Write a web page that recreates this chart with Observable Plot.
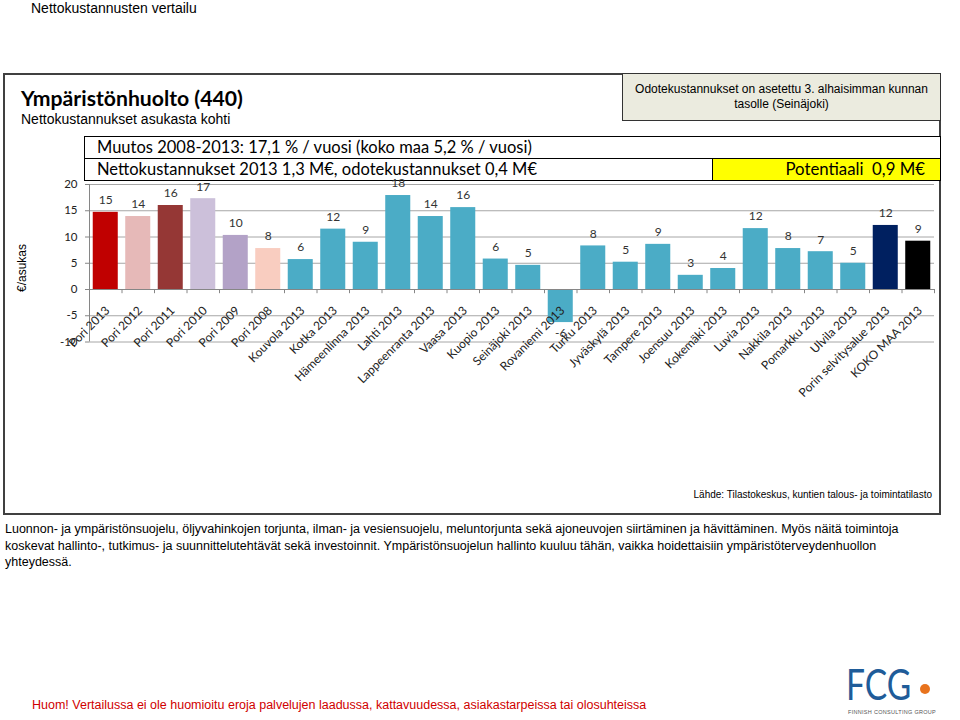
<!DOCTYPE html>
<html><head><meta charset="utf-8">
<script src="https://cdn.jsdelivr.net/npm/d3@7"></script>
<script src="https://cdn.jsdelivr.net/npm/@observablehq/plot@0.6"></script>
<style>
html,body{margin:0;padding:0;background:#fff;}
#page{position:relative;width:960px;height:720px;overflow:hidden;font-family:"Liberation Sans",Arial,sans-serif;color:#000;}
.abs{position:absolute;box-sizing:border-box;white-space:nowrap;}
.cal{font-family:Lato,"Noto Sans",sans-serif;}
#chart{position:absolute;left:0;top:0;z-index:5;pointer-events:none;}
</style></head><body><div id="page">
<div class="abs" style="left:31px;top:0px;font-size:14px;line-height:16px;">Nettokustannusten vertailu</div>
<div class="abs" style="left:3px;top:73px;width:938px;height:442px;border:2px solid #404040;"></div>
<div class="abs" style="left:622px;top:73px;width:319px;height:48px;border:1.5px solid #333;background:#ebebdf;font-size:12px;line-height:15px;text-align:center;padding-top:8px;">Odotekustannukset on asetettu 3. alhaisimman kunnan<br>tasolle (Seinäjoki)</div>
<div class="abs cal" style="left:21px;top:86px;font-size:21.2px;line-height:24px;font-weight:700;">Ympäristönhuolto (440)</div>
<div class="abs" style="left:21px;top:111px;font-size:14px;line-height:16px;">Nettokustannukset asukasta kohti</div>
<div class="abs cal" style="left:84px;top:136px;width:857px;height:23px;border:1.5px solid #000;background:#fff;font-size:16.5px;line-height:20px;padding-left:12px;">Muutos 2008-2013: 17,1 % / vuosi (koko maa 5,2 % / vuosi)</div>
<div class="abs cal" style="left:84px;top:158px;width:857px;height:23px;border:1.5px solid #000;background:#fff;font-size:16.5px;line-height:20px;padding-left:12px;">Nettokustannukset 2013 1,3 M€, odotekustannukset 0,4 M€</div>
<div class="abs cal" style="left:712px;top:158px;width:229px;height:23px;border:1.5px solid #000;background:#ffff00;font-size:16.8px;line-height:20px;text-align:right;padding-right:15px;">Potentiaali&nbsp;&nbsp;0,9 M€</div>
<div class="abs" style="left:22px;top:268px;font-size:12px;line-height:14px;transform:translate(-50%,-50%) rotate(-90deg);">€/asukas</div>
<div class="abs" style="right:28px;top:489px;font-size:10px;line-height:12px;">Lähde: Tilastokeskus, kuntien talous- ja toimintatilasto</div>
<div class="abs" style="left:5px;top:521px;font-size:12.5px;line-height:16.5px;">Luonnon- ja ympäristönsuojelu, öljyvahinkojen torjunta, ilman- ja vesiensuojelu, meluntorjunta sekä ajoneuvojen siirtäminen ja hävittäminen. Myös näitä toimintoja<br>koskevat hallinto-, tutkimus- ja suunnittelutehtävät sekä investoinnit. Ympäristönsuojelun hallinto kuuluu tähän, vaikka hoidettaisiin ympäristöterveydenhuollon<br>yhteydessä.</div>
<div class="abs" style="left:32px;top:698px;font-size:12.5px;line-height:15px;color:#d00000;">Huom! Vertailussa ei ole huomioitu eroja palvelujen laadussa, kattavuudessa, asiakastarpeissa tai olosuhteissa</div>
<div class="abs" style="left:846px;top:661px;font-size:43px;line-height:46px;color:#1f5c99;font-family:Lato,sans-serif;font-weight:400;transform:scaleX(0.78);transform-origin:left center;">FCG</div>
<div class="abs" style="left:920px;top:684px;width:10px;height:10px;border-radius:50%;background:#e8731d;"></div>
<div class="abs" style="left:848px;top:709px;font-size:5.5px;line-height:7px;color:#555;letter-spacing:0.3px;">FINNISH CONSULTING GROUP</div>
</div>
<script>
const categories = ["Pori 2013","Pori 2012","Pori 2011","Pori 2010","Pori 2009","Pori 2008","Kouvola 2013","Kotka 2013","Hämeenlinna 2013","Lahti 2013","Lappeenranta 2013","Vaasa 2013","Kuopio 2013","Seinäjoki 2013","Rovaniemi 2013","Turku 2013","Jyväskylä 2013","Tampere 2013","Joensuu 2013","Kokemäki 2013","Luvia 2013","Nakkila 2013","Pomarkku 2013","Ulvila 2013","Porin selvitysalue 2013","KOKO MAA 2013"];
const values = [14.7,13.9,16.0,17.3,10.3,7.8,5.7,11.5,9.0,17.9,13.9,15.6,5.8,4.6,-6.3,8.3,5.2,8.6,2.7,4.0,11.6,7.8,7.2,5.0,12.2,9.2];
const barColors = ["#c00000","#e6b9b8","#953735","#ccc0da","#b3a2c7","#f9cdc0","#4bacc6","#4bacc6","#4bacc6","#4bacc6","#4bacc6","#4bacc6","#4bacc6","#4bacc6","#4bacc6","#4bacc6","#4bacc6","#4bacc6","#4bacc6","#4bacc6","#4bacc6","#4bacc6","#4bacc6","#4bacc6","#002060","#000000"];
const yTicks = [-10,-5,0,5,10,15,20];

const data = categories.map((name,i)=>({name, value:values[i], color:barColors[i]}));
const W = 960, H = 720, ML = 89, MR = 26, MT = 184, MB = 720 - 341.5;
const step = (W - ML - MR) / categories.length;
const fmt = v => String(Math.round(v));
const txt = {fontFamily:"Lato, 'Noto Sans', sans-serif"};

const chart = Plot.plot({
  width: W, height: H,
  marginLeft: ML, marginRight: MR, marginTop: MT, marginBottom: MB,
  style: {background:"transparent", fontFamily:"Lato, 'Noto Sans', sans-serif", fontSize:"12px", color:"#222", overflow:"visible"},
  x: {domain: categories, paddingInner: 0.23, paddingOuter: 0.115, round: false, axis: null},
  y: {domain: [-10, 20], axis: null},
  color: {type: "identity"},
  marks: [
    Plot.gridY(yTicks.filter(t => t !== 0), {stroke:"#a6a6a6", strokeOpacity:1}),
    Plot.axisY(yTicks, {anchor:"left", tickSize:4, tickPadding:8, stroke:"#868686", fontSize:11.5, label:null, tickFormat: d => String(d)}),
    Plot.ruleX([categories[0]], {x: d => d, y1:-10, y2:20, dx:-step/2, stroke:"#868686"}),
    Plot.barY(data, {x:"name", y:"value", fill:"color"}),
    Plot.ruleY([0], {stroke:"#868686"}),
    Plot.ruleX(categories, {x: d => d, y1:0, y2:-0.8, dx:-step/2, stroke:"#868686"}),
    Plot.ruleX([categories[categories.length-1]], {x: d => d, y1:0, y2:-0.8, dx:step/2, stroke:"#868686"}),
    Plot.text(data.filter(d => d.value >= 0), {x:"name", y:"value", text: d => fmt(d.value), dy:-12, fill:"#333", fontSize:12, ...txt}),
    Plot.text(data.filter(d => d.value < 0), {x:"name", y:"value", text: d => fmt(d.value), dy:11, fill:"#333", fontSize:12, ...txt}),
    Plot.text(categories, {x: d => d, y: () => 0, text: d => d, rotate:-45, textAnchor:"end", dx:2, dy:19, fill:"#222", fontSize:12, ...txt})
  ]
});
chart.id = "chart";
document.getElementById("page").appendChild(chart);
</script>
</body></html>
